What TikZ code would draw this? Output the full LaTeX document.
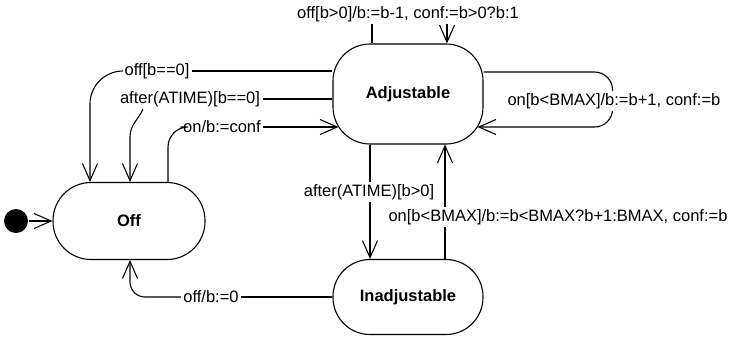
\documentclass[tikz,border=0pt]{standalone}
\usepackage{fontspec}
\setmainfont{Liberation Sans}
\usetikzlibrary{arrows.meta}

\begin{document}
\begin{tikzpicture}[x=1pt, y=-1pt, line width=1.1pt,
	state/.style = {draw, rounded corners=37pt, minimum width=150pt, font=\fontsize{16.5}{19}\selectfont\bfseries},
	lbl/.style = {fill=white, inner sep=2pt, font=\fontsize{16.5}{19}\selectfont},
	tr/.style = {-{Straight Barb[length=17pt, width=15pt]}}]
		\useasboundingbox (0,0) rectangle (733,338);
		\node[state, minimum height=100pt] (adj) at (408,94) {Adjustable};
		\node[state, minimum width=152pt, minimum height=77pt, rounded corners=38pt] (off) at (129,221) {Off};
		\node[state, minimum height=75pt, node distance=203pt] (inadj) [below of=adj] {Inadjustable};
		\node[circle, fill, inner sep=0pt, minimum size=24pt, node distance=113pt] (init) [left of=off] {};
		\node[lbl] (t1) at (157,71) {off[b==0]};
		\node[lbl] (t2) at (190,99) {after(ATIME)[b==0]};
		\node[lbl] (t3) at (222,127) {on/b:=conf};
		\node[lbl] (t4) at (408,14) {off[b>0]/b:=b-1, conf:=b>0?b:1};
		\node[lbl] (t8) at (211,297) {off/b:=0};
		\draw[tr] (init) -- (off);
		\draw (adj.west |- t1) -- (t1);
		\draw[tr, rounded corners=33pt] (t1.west) -| ([xshift=-39pt]off.north);
		\draw (adj.west |- t2) -- (t2);
		\draw[tr] ([xshift=-47pt]t2.south) to[out=-115, in=90] ([xshift=1pt, yshift=45pt]off.north) -- ([xshift=1pt]off.north);
		\draw[rounded corners=20pt] ([xshift=39pt]off.north) |- (t3.west);
		\draw[tr, shorten >=-6pt] (t3) -- (adj.west |- t3);
		\draw ([xshift=-36pt]adj.north) -- ([xshift=-36pt]t4.south);
		\draw[tr] ([xshift=39pt]t4.south) -- ([xshift=39pt]adj.north);
		\draw[tr, rounded corners=18pt, shorten >=-6pt] ([yshift=22pt]adj.east) -| ([xshift=129pt, yshift=-33pt]adj.east) -- ([yshift=-33pt]adj.east);
		\draw[tr] ([xshift=-38pt]adj.south) -- ([xshift=-38pt]inadj.north);
		\draw[tr] ([xshift=37pt]inadj.north) -- ([xshift=37pt]adj.south);
		\draw (inadj.west) -- (t8);
		\draw[tr, rounded corners=15pt] (t8.west) -| ([xshift=1pt]off.south);
		\node[lbl, anchor=west] (t5) at (505,101) {on[b<BMAX]/b:=b+1, conf:=b};
		\node[lbl] (t6) at (369,192) {after(ATIME)[b>0]};
		\node[lbl, anchor=west] (t7) at (386,217) {on[b<BMAX]/b:=b<BMAX?b+1:BMAX, conf:=b};
	\end{tikzpicture}
\end{document}
